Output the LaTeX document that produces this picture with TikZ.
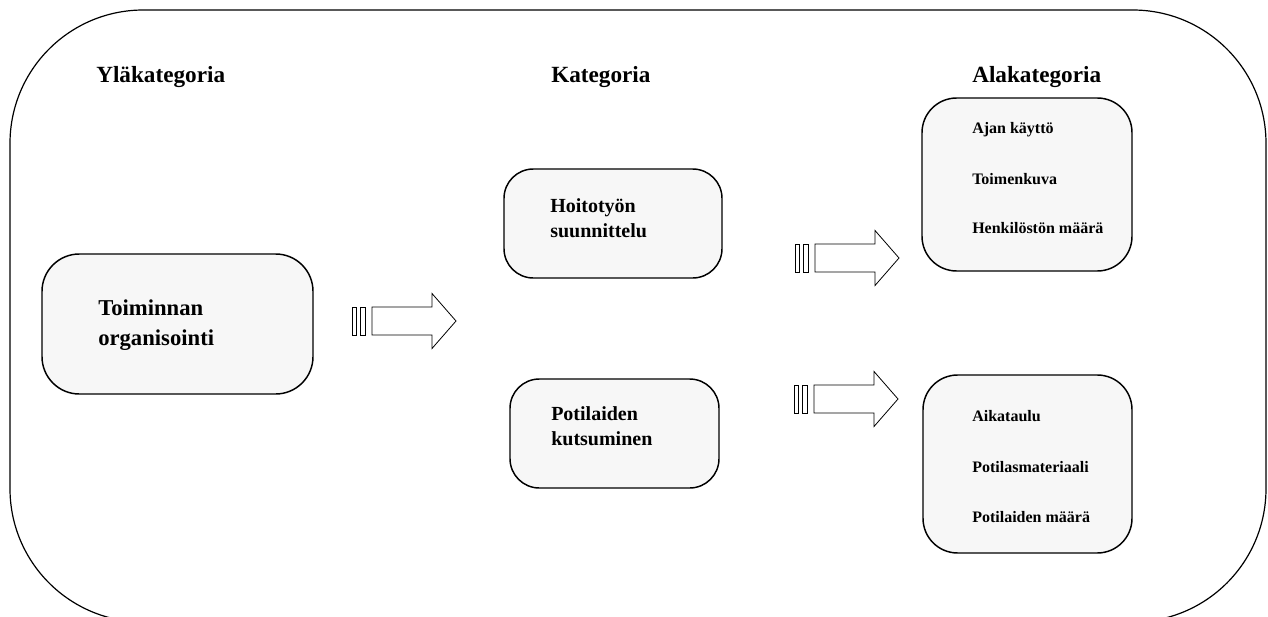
\documentclass[tikz,border=0pt]{standalone}
\usepackage{fontspec}
\setmainfont{Liberation Serif}
\usetikzlibrary{positioning}

\tikzset{
  catbox/.style={draw, line width=1.1pt, fill=black!3, rounded corners=22},
  headtext/.style={anchor=base west, inner sep=0pt, font=\fontsize{17.4}{20}\selectfont\bfseries},
  toptext/.style={anchor=base west, inner sep=0pt, align=left, font=\fontsize{17}{22.5}\selectfont\bfseries},
  midtext/.style={anchor=base west, inner sep=0pt, align=left, font=\fontsize{15}{18.75}\selectfont\bfseries},
  subtext/.style={anchor=base west, inner sep=0pt, font=\fontsize{12}{14}\selectfont\bfseries},
  blockarrow/.style={draw, line width=0.6pt, fill=white}
}
% block arrow with two stripes: #1 = name, (#2,#3) = left end and centre height
\newcommand\stripedarrow[3]{%
  \coordinate (#1) at (#2,#3);
  \draw[blockarrow] ([xshift=0]#1) ++(0,-14) rectangle ++(4,28);
  \draw[blockarrow] ([xshift=6]#1) ++(0,-14) rectangle ++(5,28);
  \draw[blockarrow] ([xshift=15]#1) ++(0,-14) -- ++(60,0) -- ++(0,-13.5)
    -- ++(24,27.5) -- ++(-24,27.5) -- ++(0,-13.5) -- ++(-60,0) -- cycle;
}

\begin{document}
\begin{tikzpicture}[x=0.75pt, y=-0.75pt]
		\useasboundingbox (0,0) rectangle (1268,617);
		\clip (0,0) rectangle (1268,617);
		% outer frame
		\draw [line width=0.9pt, rounded corners=100] (10,10) rectangle (1266,622);
		% headings
		\node [headtext] (hdYla) at (96,83) {Yläkategoria};
		\node [headtext] (hdKat) at (551,83) {Kategoria};
		\node [headtext] (hdAla) at (972,83) {Alakategoria};
		% upper category
		\draw [catbox, rounded corners=28] (42,254) rectangle (313,394);
		\node [toptext] (toiminta) at (98,345) {Toiminnan\\organisointi};
		% categories
		\draw [catbox] (504,169) rectangle (722,278);
		\node [midtext] (hoito) at (550,237) {Hoitotyön\\suunnittelu};
		\draw [catbox] (510,379) rectangle (719,488);
		\node [midtext] (kutsu) at (551,445) {Potilaiden\\kutsuminen};
		% sub categories
		\draw [catbox, rounded corners=26] (922,98) rectangle (1132,271);
		\node [subtext] (ajan) at (972,133) {Ajan käyttö};
		\node [subtext] (toimen) at (972,185) {Toimenkuva};
		\node [subtext] (henk) at (972,233) {Henkilöstön määrä};
		\draw [catbox, rounded corners=26] (923,375) rectangle (1132,553);
		\node [subtext] (aika) at (972,421) {Aikataulu};
		\node [subtext] (mater) at (972,472) {Potilasmateriaali};
		\node [subtext] (maara) at (972,522) {Potilaiden määrä};
		% arrows
		\stripedarrow{arrA}{352}{321}
		\stripedarrow{arrB}{795}{258}
		\stripedarrow{arrC}{794}{399}
	\end{tikzpicture}
\end{document}
